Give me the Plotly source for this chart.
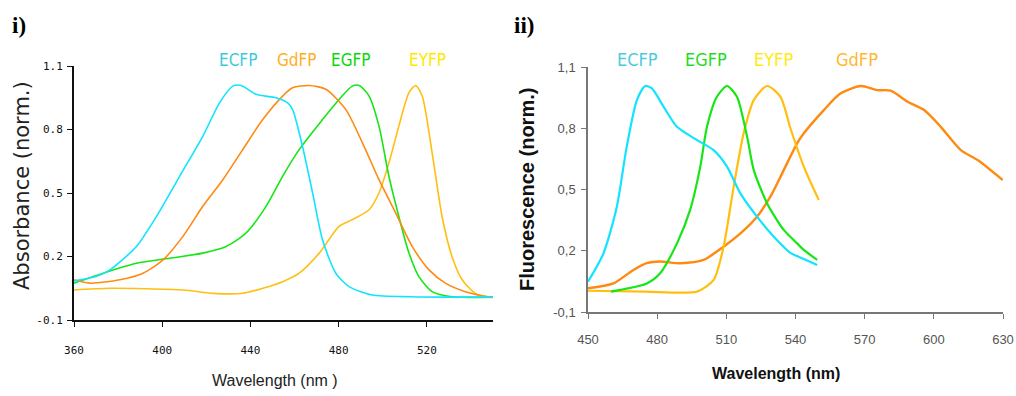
import plotly.graph_objects as go

# ---------------- Panel i: absorbance ----------------
abs_ecfp_x = [360, 370, 376.3, 388.3, 397.4, 407.9, 418.4, 426, 432, 435.8, 442.6, 451.6, 456.9, 459.1,
              463.6, 468.2, 472.7, 478.7, 484.7, 495.3, 513, 530, 550]
abs_ecfp_y = [0.085, 0.105, 0.137, 0.247, 0.389, 0.579, 0.768, 0.926, 1.005, 1.008, 0.966, 0.95, 0.926, 0.895,
              0.721, 0.50, 0.279, 0.121, 0.058, 0.018, 0.01, 0.008, 0.008]

abs_gdfp_x = [360, 367.2, 380.8, 391.3, 400.4, 409.4, 418.4, 427.5, 436.5, 445.6, 454.6, 459.1, 466.7, 474.2,
              483.2, 490.8, 498.3, 505.9, 513.4, 521, 528.4, 537.4, 548, 550]
abs_gdfp_y = [0.09, 0.074, 0.09, 0.121, 0.184, 0.295, 0.437, 0.563, 0.705, 0.847, 0.958, 0.997, 1.008, 0.99,
              0.895, 0.737, 0.563, 0.405, 0.247, 0.137, 0.074, 0.034, 0.01, 0.008]

abs_egfp_x = [360, 373.2, 388.3, 403.4, 418.4, 429, 438, 447.1, 454.6, 462.1, 472.7, 480.2, 486.2, 489.3,
              493.8, 498.3, 502.8, 507.3, 511.9, 516.4, 522.4, 531.4, 550]
abs_egfp_y = [0.074, 0.121, 0.168, 0.192, 0.216, 0.247, 0.311, 0.437, 0.579, 0.705, 0.847, 0.942, 1.005, 1.008,
              0.958, 0.816, 0.579, 0.389, 0.216, 0.105, 0.034, 0.01, 0.008]

abs_eyfp_x = [360, 376.3, 409.4, 423, 436.5, 445.6, 454.6, 462.1, 471.2, 480.2, 486.2, 493.8, 498.3, 502.8,
              507.3, 511.9, 514.9, 517.9, 522.4, 526.9, 531.4, 536, 542, 548, 550]
abs_eyfp_y = [0.042, 0.05, 0.042, 0.026, 0.026, 0.05, 0.081, 0.121, 0.216, 0.342, 0.374, 0.421, 0.5, 0.642,
              0.816, 0.974, 1.008, 0.958, 0.69, 0.389, 0.2, 0.09, 0.026, 0.008, 0.006]

# ---------------- Panel ii: fluorescence ----------------
fl_ecfp_x = [450, 456.7, 462.5, 466.8, 471.2, 474.8, 477.7, 482.8, 488.6, 497.3, 504.5, 510.3, 516.1, 523.3,
             530.6, 537.8, 543.6, 549.4]
fl_ecfp_y = [0.048, 0.187, 0.416, 0.71, 0.938, 1.007, 0.995, 0.905, 0.807, 0.742, 0.693, 0.612, 0.481, 0.367,
             0.269, 0.19, 0.16, 0.13]

fl_egfp_x = [460, 463.9, 475.5, 481.3, 488.6, 494.3, 498.7, 501.6, 505.9, 510.3, 514.6, 519, 521.9, 527.7,
             534.9, 540.7, 543.6, 549.4]
fl_egfp_y = [0.0, 0.008, 0.04, 0.09, 0.236, 0.4, 0.612, 0.807, 0.954, 1.007, 0.954, 0.759, 0.595, 0.432,
             0.302, 0.236, 0.204, 0.155]

fl_eyfp_x = [450, 475, 497.3, 504.5, 508.8, 513.2, 517.5, 521.9, 527.7, 533.5, 537.8, 543.6, 550.1]
fl_eyfp_y = [0.004, 0.0, 0.0, 0.057, 0.22, 0.514, 0.775, 0.938, 1.007, 0.954, 0.8, 0.612, 0.448]

fl_gdfp_x = [450, 461, 469.7, 475.5, 481.3, 490, 500.1, 508.8, 516.1, 523.3, 529.1, 534.9, 540.7, 543.6,
             552.3, 559.6, 568.3, 575.5, 581.3, 588.6, 595.8, 603, 611.7, 619, 629.9]
fl_gdfp_y = [0.016, 0.04, 0.106, 0.139, 0.147, 0.139, 0.155, 0.22, 0.285, 0.367, 0.465, 0.595, 0.726, 0.775,
             0.889, 0.971, 1.007, 0.987, 0.984, 0.93, 0.889, 0.807, 0.693, 0.644, 0.546]

# tick labels
abs_xticks = [360, 400, 440, 480, 520]
abs_yticks = [-0.1, 0.2, 0.5, 0.8, 1.1]
abs_ytext = ["-0.1", "0.2", "0.5", "0.8", "1.1"]
fl_xticks = [450, 480, 510, 540, 570, 600, 630]
fl_yticks = [-0.1, 0.2, 0.5, 0.8, 1.1]
fl_ytext = ["-0,1", "0,2", "0,5", "0,8", "1,1"]

C_CYAN = "#12e4ff"
C_ORANGE = "#ff8a12"
C_GREEN = "#16e616"
C_GOLD = "#ffbe10"

W, H = 1016, 396

fig = go.Figure()

def add(x, y, color, width, xa, ya):
    fig.add_trace(go.Scatter(x=x, y=y, mode="lines",
                             line=dict(color=color, width=width, shape="spline", smoothing=0.7),
                             xaxis=xa, yaxis=ya, showlegend=False, hoverinfo="skip"))

add(abs_eyfp_x, abs_eyfp_y, C_GOLD, 1.6, "x", "y")
add(abs_egfp_x, abs_egfp_y, C_GREEN, 1.6, "x", "y")
add(abs_gdfp_x, abs_gdfp_y, C_ORANGE, 1.6, "x", "y")
add(abs_ecfp_x, abs_ecfp_y, C_CYAN, 1.6, "x", "y")

add(fl_gdfp_x, fl_gdfp_y, C_ORANGE, 2.4, "x2", "y2")
add(fl_eyfp_x, fl_eyfp_y, C_GOLD, 2.2, "x2", "y2")
add(fl_egfp_x, fl_egfp_y, C_GREEN, 2.2, "x2", "y2")
add(fl_ecfp_x, fl_ecfp_y, C_CYAN, 2.2, "x2", "y2")

def px_x(p):
    return p / W

def px_y(p):
    return 1 - p / H

axis_common = dict(showgrid=False, zeroline=False, showline=True, ticks="outside", mirror=False,
                   automargin=False)
f1 = dict(family="DejaVu Sans Mono", size=11, color="#111")
f2 = dict(family="Liberation Sans", size=13, color="#555")

fig.update_layout(
    width=W, height=H,
    margin=dict(l=0, r=0, t=0, b=0, pad=0),
    paper_bgcolor="white", plot_bgcolor="white",
    xaxis=dict(domain=[px_x(74), px_x(493)], range=[360, 550], anchor="y",
               tickvals=abs_xticks, ticklen=5, linecolor="#111", linewidth=2, tickcolor="#111",
               tickfont=f1, ticklabelstandoff=14, **axis_common),
    yaxis=dict(domain=[px_y(320), px_y(66)], range=[-0.1, 1.1], anchor="x",
               tickvals=abs_yticks, ticktext=abs_ytext, ticklen=5, linecolor="#111", linewidth=2,
               tickcolor="#111", tickfont=f1, ticklabelstandoff=2, **axis_common),
    xaxis2=dict(domain=[px_x(588), px_x(1003)], range=[450, 630], anchor="y2",
                tickvals=fl_xticks, ticklen=5, linecolor="#777", linewidth=1.5, tickcolor="#777",
                tickfont=f2, ticklabelstandoff=10, **axis_common),
    yaxis2=dict(domain=[px_y(312), px_y(67)], range=[-0.1, 1.1], anchor="x2",
                tickvals=fl_yticks, ticktext=fl_ytext, ticklen=5, linecolor="#777", linewidth=1.5,
                tickcolor="#777", tickfont=f2, ticklabelstandoff=3, **axis_common),
)

ann = []
def text(x, y, s, size, color, family="Liberation Sans", angle=0, bold=False, xanchor="center"):
    if bold:
        s = "<b>" + s + "</b>"
    ann.append(dict(x=px_x(x), y=px_y(y), xref="paper", yref="paper", text=s, showarrow=False,
                    xanchor=xanchor, yanchor="middle", textangle=angle, borderpad=0,
                    font=dict(family=family, size=size, color=color)))

# panel labels
text(11, 26, "i)", 23, "#000", family="Liberation Serif", bold=True, xanchor="left")
text(513, 26, "ii)", 23, "#000", family="Liberation Serif", bold=True, xanchor="left")

# axis titles
text(22, 186, "Absorbance (norm.)", 21, "#222", family="DejaVu Sans", angle=-90)
text(275, 380, "Wavelength (nm )", 16, "#222")
text(527, 190, "Fluorescence (norm.)", 20, "#111", bold=True, angle=-90)
text(776, 373, "Wavelength (nm)", 16, "#111", bold=True)

# series labels panel i
text(238, 60, "ECFP", 17, "#3fc9dc", family="DejaVu Sans Condensed")
text(297, 60, "GdFP", 17, "#ffae22", family="DejaVu Sans Condensed")
text(351, 60, "EGFP", 17, "#0ad70a", family="DejaVu Sans Condensed")
text(427, 60, "EYFP", 17, "#ffe800", family="DejaVu Sans Condensed")

# series labels panel ii
text(637, 60, "ECFP", 18, "#4ccbdc", family="DejaVu Sans Condensed")
text(706, 60, "EGFP", 18, "#1fdc1f", family="DejaVu Sans Condensed")
text(773, 60, "EYFP", 18, "#ffea10", family="DejaVu Sans Condensed")
text(857, 60, "GdFP", 18, "#ffb830", family="DejaVu Sans Condensed")

fig.update_layout(annotations=ann)

fig.write_html("out.html", post_script="document.body.style.margin='0';")
